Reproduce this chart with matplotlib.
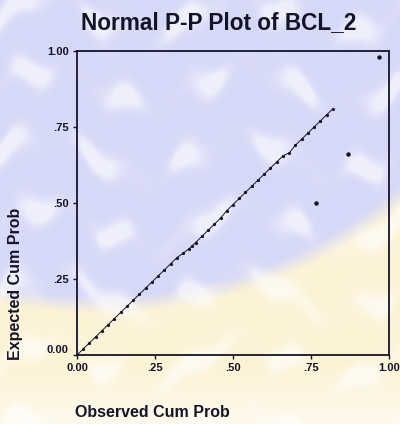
"""Normal P-P plot of BCL_2, scanned SPSS style."""

import matplotlib
matplotlib.use("Agg")
import matplotlib.pyplot as plt
import numpy as np

# observed vs expected cumulative probability
OBSERVED = [0.00, 0.02, 0.04, 0.06, 0.08, 0.10, 0.12, 0.14, 0.16, 0.18,
            0.20, 0.22, 0.24, 0.26, 0.28, 0.30, 0.32, 0.34, 0.36, 0.37,
            0.38, 0.40, 0.42, 0.44, 0.46, 0.48, 0.50, 0.52, 0.54, 0.56,
            0.58, 0.60, 0.62, 0.64, 0.66, 0.68, 0.70, 0.72, 0.74, 0.76,
            0.78, 0.80, 0.82]
EXPECTED = [0.00, 0.02, 0.04, 0.06, 0.08, 0.10, 0.12, 0.14, 0.16, 0.18,
            0.20, 0.22, 0.24, 0.26, 0.28, 0.30, 0.32, 0.335, 0.35, 0.36,
            0.37, 0.39, 0.41, 0.43, 0.45, 0.475, 0.495, 0.515, 0.535, 0.555,
            0.575, 0.595, 0.615, 0.635, 0.655, 0.665, 0.69, 0.71, 0.73, 0.75,
            0.77, 0.79, 0.81]
OUTLIER_OBS = [0.765, 0.87, 0.968]
OUTLIER_EXP = [0.50, 0.66, 0.98]

TICKS = [0.0, 0.25, 0.5, 0.75, 1.0]
X_LABELS = ["0.00", ".25", ".50", ".75", "1.00"]
Y_LABELS = ["0.00", ".25", ".50", ".75", "1.00"]

INK = "#141428"
FONT = "Liberation Sans"


def _background(fig):
    # rough stand-in for the faint seal watermark behind the scan
    h, w = 424, 400
    yy, xx = np.mgrid[0:h, 0:w]
    lav = np.array([0.84, 0.85, 0.97])
    yel = np.array([0.99, 0.95, 0.84])
    white = np.array([1.0, 1.0, 1.0])
    d = np.hypot(xx - 100, yy + 167)
    t = np.clip((d - 462) / 18, 0, 1)[..., None]
    img = lav * (1 - t) + yel * t
    fade = np.clip((yy - 370) / 60, 0, 1)[..., None] * 0.6
    img = img * (1 - fade) + white * fade
    wave = np.sin(yy / 11.0 + 1.8 * np.sin(xx / 31.0) + 0.7 * np.sin(xx / 9.0))
    wave2 = np.sin(xx / 14.0 + 1.2 * np.sin(yy / 19.0))
    streak = np.clip(0.5 + 0.35 * wave + 0.25 * wave2, 0, 1) ** 5
    streak = streak[..., None] * 0.6
    img = img * (1 - streak) + white * streak
    bg = fig.add_axes([0, 0, 1, 1], zorder=-1)
    bg.imshow(img, aspect="auto", interpolation="bilinear")
    bg.axis("off")


def main():
    fig = plt.figure(figsize=(4.0, 4.24), dpi=100)
    _background(fig)

    ax = fig.add_axes([0.1925, 0.1627, 0.78, 0.717])
    ax.patch.set_alpha(0)
    ax.plot(OBSERVED, EXPECTED, color=INK, lw=0.7, marker="o", ms=1.3,
            mec=INK, mfc=INK)
    ax.plot(OUTLIER_OBS, OUTLIER_EXP, "o", color=INK, ms=2.2)

    ax.set_xlim(0, 1)
    ax.set_ylim(0, 1)
    ax.set_xticks(TICKS)
    ax.set_yticks(TICKS)
    ax.set_xticklabels(X_LABELS, fontfamily=FONT, fontweight="bold", fontsize=8, color=INK)
    ax.set_yticklabels(Y_LABELS, fontfamily=FONT, fontweight="bold", fontsize=8, color=INK)
    ax.get_yticklabels()[0].set_va("bottom")
    ax.tick_params(direction="out", length=3, width=1.0, color=INK, pad=3)
    for sp in ax.spines.values():
        sp.set_color(INK)
        sp.set_linewidth(1.3)

    fig.text(0.547, 0.946, "Normal P-P Plot of BCL_2", ha="center", va="center",
             fontfamily=FONT, fontweight="bold", fontsize=16.3, color=INK)
    fig.text(0.038, 0.33, "Expected Cum Prob", rotation=90, ha="center", va="center",
             fontfamily=FONT, fontweight="bold", fontsize=11.5, color=INK)
    fig.text(0.187, 0.028, "Observed Cum Prob", ha="left", va="center",
             fontfamily=FONT, fontweight="bold", fontsize=11.5, color=INK)

    fig.savefig("out.png", dpi=100)
    plt.close(fig)


if __name__ == "__main__":
    main()
